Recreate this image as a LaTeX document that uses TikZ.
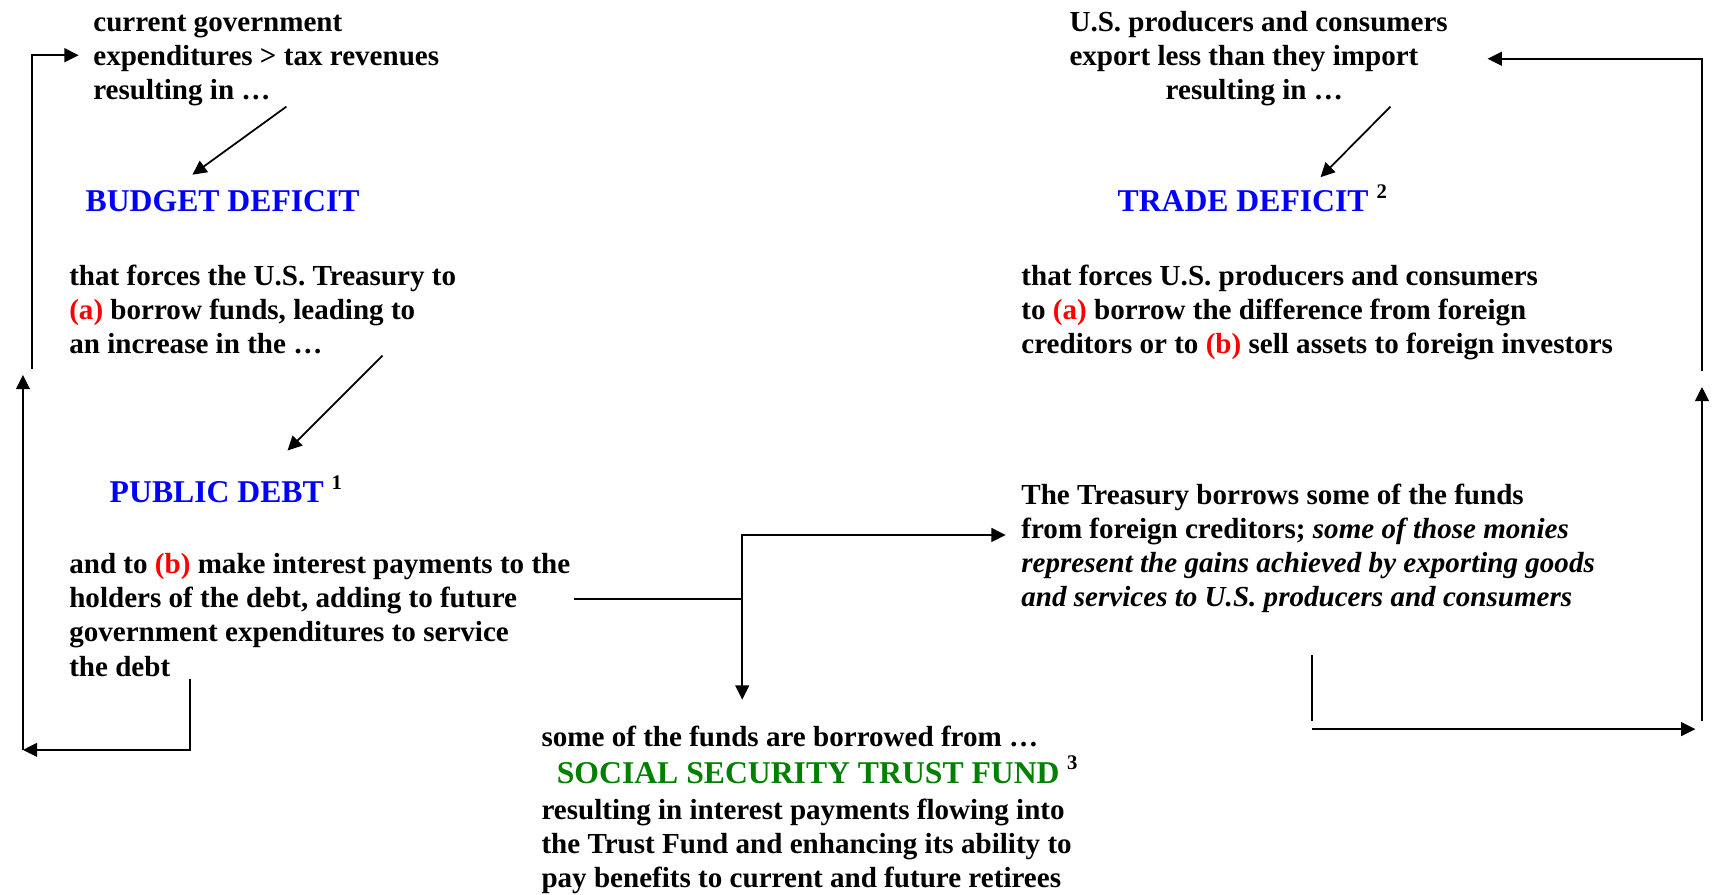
\documentclass[tikz,border=0pt]{standalone}
\usepackage{fontspec}
\setmainfont{Liberation Serif}
\usepackage{tikz}
\usetikzlibrary{arrows.meta, calc}
\definecolor{ssgreen}{RGB}{0,128,0}
\newcommand{\bodyfnt}{\fontsize{13.3}{15.6}\selectfont\bfseries}
\newcommand{\headfnt}{\fontsize{14.5}{17}\selectfont\bfseries}
\newcommand{\redlbl}[1]{\textcolor{red}{#1}}
\newcommand{\fnote}[1]{\ \raisebox{6pt}{\fontsize{9.5}{10}\selectfont\bfseries\color{black}#1}}

\begin{document}
\begin{tikzpicture}[
    x=0.5pt, y=-0.5pt,
    txt/.style={inner sep=0pt, anchor=north west, align=left, font=\bodyfnt},
    head/.style={inner sep=0pt, anchor=west, font=\headfnt, text=blue},
    arrow/.style={-{Triangle[length=6.5pt, width=6.3pt]}, line width=0.8pt},
    plain/.style={line width=0.8pt}
]
    \useasboundingbox (0,0) rectangle (1568,818);

    % left column: budget deficit
    \node[txt] (govexp) at (85,13.5) {current government\\expenditures > tax revenues\\resulting in …};
    \node[head] (budget) at (78,184) {BUDGET DEFICIT};
    \node[txt] (forces) at (63,242) {that forces the U.S. Treasury to\\\redlbl{(a)} borrow funds, leading to\\an increase in the …};
    \node[head] (pubdebt) at (100,448) {PUBLIC DEBT\fnote{1}};
    \node[txt] (interest) at (63,506) {and to \redlbl{(b)} make interest payments to the\\holders of the debt, adding to future\\government expenditures to service\\the debt};

    % right column: trade deficit
    \node[txt] (tradein) at (978,10) {U.S. producers and consumers\\export less than they import\\\hspace*{44pt}resulting in …};
    \node[head] (trade) at (1022,181) {TRADE DEFICIT\fnote{2}};
    \node[txt] (tforces) at (934,242) {that forces U.S. producers and consumers\\to \redlbl{(a)} borrow the difference from foreign\\creditors or to \redlbl{(b)} sell assets to foreign investors};
    \node[txt] (treasury) at (934,442) {The Treasury borrows some of the funds\\from foreign creditors; \textit{some of those monies}\\\textit{represent the gains achieved by exporting goods}\\\textit{and services to U.S. producers and consumers}};

    % bottom: trust fund
    \node[txt] (social) at (495,664) {some of the funds are borrowed from …\\[1pt]\hspace*{7pt}{\headfnt\color{ssgreen}SOCIAL SECURITY TRUST FUND}\fnote{3}\\[1pt]resulting in interest payments flowing into\\the Trust Fund and enhancing its ability to\\pay benefits to current and future retirees};

    % loop corners
    \coordinate (lbot) at (21,686);
    \coordinate (lmid) at (21,343);
    \coordinate (lgap) at (29,338);
    \coordinate (split) at (679,548);
    \coordinate (rdrop) at (1200,660);
    \coordinate (rbot) at (1551,667);
    \coordinate (rlow) at (1557,660);
    \coordinate (rmid) at (1557,354);
    \coordinate (rgap) at (1557,339);

    % downward arrows
    \draw[arrow] ([xshift=88.5pt]govexp.south west) -- ([xshift=49pt, yshift=7pt]budget.north west);
    \draw[arrow] ([xshift=143.5pt, yshift=-0.5pt]forces.south west) -- ([xshift=81.5pt, yshift=11.5pt]pubdebt.north west);
    \draw[arrow] ([xshift=147pt]tradein.south west) -- ([xshift=93pt, yshift=3pt]trade.north west);

    % left loop
    \draw[arrow] ([xshift=55.5pt, yshift=-1pt]interest.south west) |- (lbot);
    \draw[arrow] (lbot) -- (lmid);
    \draw[arrow, shorten >=6.5pt] (lgap) |- ([yshift=2.5pt]govexp.west);

    % split to treasury and trust fund
    \draw[plain] ([xshift=1.5pt]interest.east |- split) -- (split);
    \draw[arrow, shorten >=7pt] (split) |- ([yshift=6pt]treasury.west);
    \draw[arrow, shorten >=12pt] (split) -- (split |- social.north);

    % right loop
    \draw[plain] ([xshift=133pt, yshift=-19pt]treasury.south west) -- (rdrop);
    \draw[arrow] (rdrop |- rbot) -- (rbot);
    \draw[arrow] (rlow) -- (rmid);
    \draw[arrow, shorten >=18pt] (rgap) |- (tradein.east);
\end{tikzpicture}
\end{document}
